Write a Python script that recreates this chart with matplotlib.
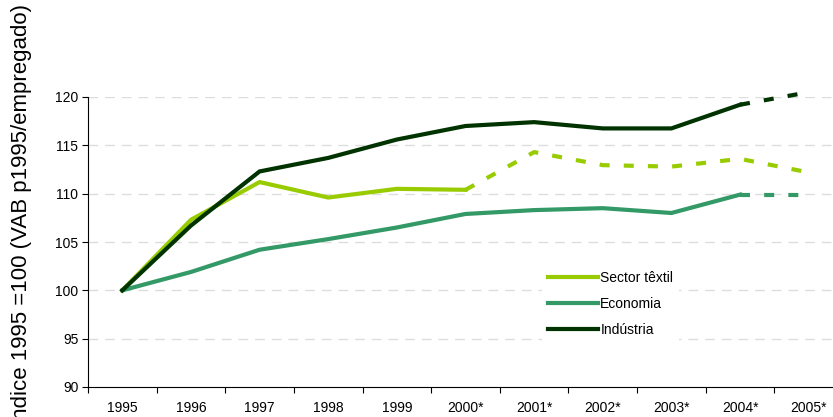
import matplotlib
matplotlib.use("Agg")
import matplotlib.pyplot as plt
import numpy as np

plt.rcParams['font.family'] = ['Liberation Sans', 'DejaVu Sans']

years = ["1995", "1996", "1997", "1998", "1999", "2000*", "2001*", "2002*", "2003*", "2004*", "2005*"]
textil = [100, 107.3, 111.2, 109.6, 110.5, 110.4, 114.3, 112.95, 112.8, 113.6, 112.2]
economia = [100, 101.9, 104.2, 105.3, 106.5, 107.9, 108.3, 108.5, 108.0, 109.9, 109.9]
industria = [100, 106.7, 112.3, 113.7, 115.6, 117.0, 117.4, 116.75, 116.75, 119.2, 120.5]
# index from which the series is drawn dashed (projection)
textil_split = 5
economia_split = 9
industria_split = 9

c_textil = "#99CC00"
c_econ = "#339966"
c_ind = "#003300"

W, H = 833, 417
fig = plt.figure(figsize=(W / 100, H / 100), dpi=100)
ax = fig.add_axes([88 / W, (H - 387) / H, (843 - 88) / W, (387 - 97) / H])

x = np.arange(len(years))
lw = 3.0
dash = [2.4, 3.4]

def draw(vals, split, color, label):
    ax.plot(x[:split + 1], vals[:split + 1], color=color, lw=lw, label=label,
            solid_joinstyle='miter', clip_on=False, zorder=3)
    ax.plot(x[split:], vals[split:], color=color, lw=lw, dashes=dash,
            dash_capstyle='butt', clip_on=False, zorder=3)

draw(textil, textil_split, c_textil, "Sector têxtil")
draw(economia, economia_split, c_econ, "Economia")
draw(industria, industria_split, c_ind, "Indústria")

ax.set_xlim(-0.5, len(years) - 0.5)
ax.set_ylim(90, 120)
ax.set_yticks(np.arange(90, 121, 5))
ax.set_xticks(x)
ax.set_xticklabels(years)
ax.set_xticks(np.arange(-0.5, len(years), 1.0), minor=True)
ax.tick_params(axis='x', which='major', length=0, pad=10, labelsize=10)
ax.tick_params(axis='x', which='minor', length=4, direction='out', width=0.8)
ax.tick_params(axis='y', length=4, direction='out', width=0.8, pad=3, labelsize=10)

for v in range(95, 121, 5):
    ax.axhline(v, color="#DDDDDD", lw=1.0, dashes=[7, 5], zorder=1)

for s in ['top', 'right']:
    ax.spines[s].set_visible(False)
for s in ['left', 'bottom']:
    ax.spines[s].set_linewidth(0.8)
    ax.spines[s].set_color('black')

leg = ax.legend(loc='upper left', bbox_to_anchor=((542 - 88) / (843 - 88), (387 - 265) / (387 - 97)),
                frameon=True, fontsize=10, handlelength=3.6, handletextpad=0.2,
                labelspacing=0.87, borderpad=0.4, borderaxespad=0)
leg.get_frame().set_facecolor('white')
leg.get_frame().set_edgecolor('none')
leg.get_frame().set_alpha(1)
leg.set_zorder(5)

fig.text(20 / W, 0.485, "Índice 1995 =100 (VAB p1995/empregado)", rotation=90,
         ha='center', va='center', fontsize=16)

fig.savefig("out.png", dpi=100)
